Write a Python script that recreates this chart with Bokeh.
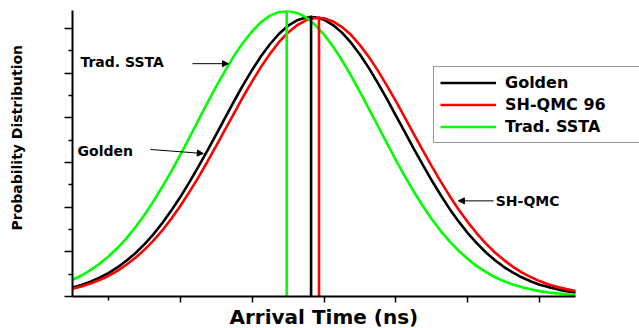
from bokeh.plotting import figure
from bokeh.models import (Range1d, FixedTicker, CustomJSTickFormatter, Legend,
                          LegendItem, Label, Arrow, NormalHead, Title, LinearAxis)
from bokeh.embed import file_html
from bokeh.resources import INLINE

# ---- data ----
arrival = [0.5, 0.625, 0.75, 0.875, 1.0, 1.125, 1.25, 1.375, 1.5, 1.625, 1.75, 1.875,
           2.0, 2.125, 2.25, 2.375, 2.5, 2.625, 2.75, 2.875, 3.0, 3.125, 3.25, 3.375,
           3.5, 3.625, 3.75, 3.875, 4.0, 4.125, 4.25, 4.375, 4.5, 4.625, 4.75, 4.875,
           5.0, 5.125, 5.25, 5.375, 5.5, 5.625, 5.75, 5.875, 6.0, 6.125, 6.25, 6.375,
           6.5, 6.625, 6.75, 6.875, 7.0, 7.125, 7.25, 7.375, 7.5]
golden = [0.40, 0.52, 0.66, 0.84, 1.05, 1.30, 1.60, 1.94, 2.33, 2.78, 3.29, 3.85,
          4.45, 5.11, 5.80, 6.52, 7.26, 8.01, 8.75, 9.47, 10.14, 10.76, 11.30, 11.76,
          12.12, 12.36, 12.49, 12.50, 12.39, 12.15, 11.81, 11.36, 10.83, 10.22, 9.55, 8.84,
          8.10, 7.36, 6.61, 5.89, 5.19, 4.53, 3.91, 3.35, 2.84, 2.39, 1.98, 1.63,
          1.33, 1.08, 0.86, 0.68, 0.53, 0.42, 0.32, 0.24, 0.18]
shqmc = [0.35, 0.45, 0.58, 0.74, 0.92, 1.15, 1.42, 1.73, 2.09, 2.50, 2.96, 3.48,
         4.05, 4.67, 5.32, 6.02, 6.74, 7.48, 8.21, 8.94, 9.63, 10.28, 10.87, 11.39,
         11.82, 12.14, 12.36, 12.46, 12.45, 12.31, 12.06, 11.71, 11.25, 10.72, 10.11, 9.44,
         8.74, 8.01, 7.27, 6.54, 5.82, 5.14, 4.49, 3.88, 3.33, 2.83, 2.38, 1.98,
         1.64, 1.34, 1.08, 0.87, 0.69, 0.54, 0.42, 0.33, 0.25]
ssta = [0.75, 0.94, 1.18, 1.46, 1.79, 2.17, 2.60, 3.10, 3.65, 4.25, 4.91, 5.60,
        6.34, 7.10, 7.88, 8.65, 9.40, 10.11, 10.78, 11.37, 11.87, 12.28, 12.57, 12.74,
        12.78, 12.69, 12.49, 12.16, 11.72, 11.19, 10.57, 9.89, 9.16, 8.40, 7.63, 6.86,
        6.10, 5.38, 4.69, 4.05, 3.46, 2.93, 2.46, 2.04, 1.68, 1.36, 1.10, 0.87,
        0.69, 0.54, 0.42, 0.32, 0.24, 0.18, 0.14, 0.10, 0.07]
series_names = ["Golden", "SH-QMC 96", "Trad. SSTA"]
series_colors = ["#000000", "#FF0000", "#00FF00"]
mean_x = [3.82, 3.93, 3.48]
mean_top = [12.58, 12.54, 12.8]

FONT = "DejaVu Sans"

p = figure(width=639, height=328, output_backend="svg", toolbar_location=None,
           title=None, x_range=Range1d(0.5, 8.39), y_range=Range1d(0, 12.8),
           min_border_left=72, min_border_right=0, min_border_top=10,
           min_border_bottom=28)
p.outline_line_color = None
p.grid.visible = False
p.background_fill_color = "white"
p.border_fill_color = "white"

empty = CustomJSTickFormatter(code="return ''")
xa = p.xaxis[0]
xa.ticker = FixedTicker(ticks=[2, 3, 4, 5, 6, 7], minor_ticks=[1])
xa.bounds = (0.5, 7.5)
xa.major_tick_out = 6
xa.minor_tick_out = 4

ya = p.yaxis[0]
ya.ticker = FixedTicker(ticks=[0, 2, 4, 6, 8, 10, 12], minor_ticks=[1, 3, 5, 7, 9, 11])
ya.major_tick_out = 8
ya.minor_tick_out = 4

for ax in (xa, ya):
    ax.formatter = empty
    ax.major_label_text_font_size = "0px"
    ax.major_label_standoff = 0
    ax.major_tick_in = 0
    ax.minor_tick_in = 0
    ax.axis_line_width = 2
    ax.major_tick_line_width = 1.5
    ax.minor_tick_line_width = 1.5
    ax.axis_line_color = "black"

# invisible spacer axis that pushes the y title outwards
spacer = LinearAxis(ticker=FixedTicker(ticks=[6]), formatter=empty,
                    axis_line_color=None, major_tick_line_color=None,
                    minor_tick_line_color=None, major_tick_out=36, major_tick_in=0,
                    minor_tick_out=0, minor_tick_in=0,
                    major_label_text_font_size="0px", major_label_standoff=0)
p.add_layout(spacer, "left")

p.add_layout(Title(text="Arrival Time (ns)", align="left", offset=157, standoff=0,
                   text_font=FONT, text_font_style="bold", text_font_size="20px",
                   text_color="black"), "below")
p.add_layout(Title(text="Probability Distribution", align="left", offset=66,
                   standoff=8, text_font=FONT, text_font_style="bold",
                   text_font_size="14px", text_color="black"), "left")

renderers = []
for ys, c in zip([golden, shqmc, ssta], series_colors):
    r = p.line(arrival, ys, line_color=c, line_width=2.6)
    renderers.append(r)

p.segment(x0=mean_x, y0=[0, 0, 0], x1=mean_x, y1=mean_top,
          line_color=series_colors, line_width=2.6)

legend = Legend(items=[LegendItem(label=n, renderers=[r]) for n, r in zip(series_names, renderers)],
                location=(361, 153), orientation="vertical",
                label_text_font=FONT, label_text_font_style="bold",
                label_text_font_size="16px", label_text_color="black", label_standoff=9,
                glyph_width=56, glyph_height=19, label_height=19, label_width=150,
                spacing=3, padding=6, margin=0,
                border_line_color="#333333", border_line_width=1,
                background_fill_color="white", background_fill_alpha=1)
p.add_layout(legend)


def lab(x, y, t, size):
    p.add_layout(Label(x=x, y=y, text=t, text_font=FONT, text_font_style="bold",
                       text_font_size=size, text_align="left", text_baseline="middle",
                       text_color="black"))


lab(0.61, 10.50, "Trad. SSTA", "14px")
lab(0.57, 6.49, "Golden", "14px")
lab(6.39, 4.26, "SH-QMC", "14px")

for xs, ys_, xe, ye in [(2.17, 10.42, 2.67, 10.42), (1.585, 6.58, 2.32, 6.40),
                        (6.36, 4.28, 5.87, 4.28)]:
    p.add_layout(Arrow(end=NormalHead(size=6, fill_color="black", line_color="black"),
                       x_start=xs, y_start=ys_, x_end=xe, y_end=ye,
                       line_width=1, line_color="black"))

open("out.html", "w").write(file_html(p, INLINE))
